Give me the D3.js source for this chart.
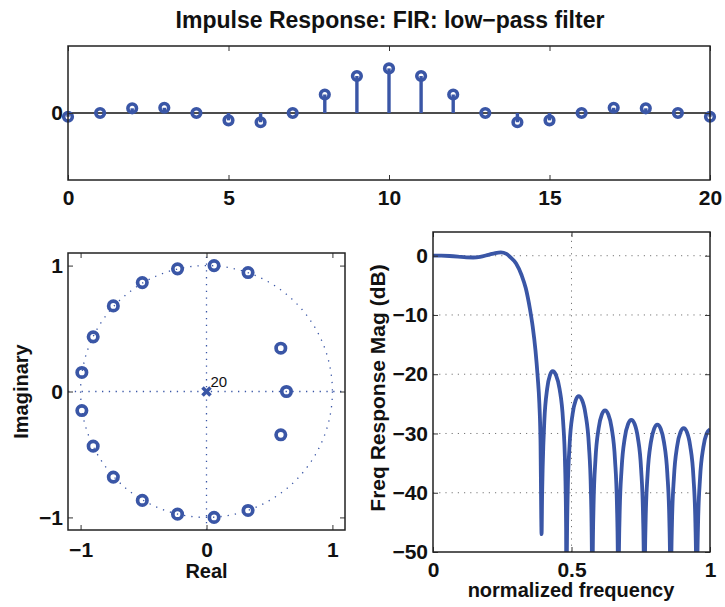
<!DOCTYPE html>
<html>
<head>
<meta charset="utf-8">
<script src="https://cdn.jsdelivr.net/npm/d3@7"></script>
<style>
  html, body { margin: 0; padding: 0; background: #fff; }
  svg { display: block; }
  text { font-family: "Liberation Sans", Arial, Helvetica, sans-serif; fill: #111; }
</style>
</head>
<body>
<svg id="chart" width="725" height="607"></svg>
<script>
// ---------------- DATA ----------------
const title = "Impulse Response: FIR: low\u2212pass filter";

// Impulse response (stem plot)
const sampleIndex = [0,1,2,3,4,5,6,7,8,9,10,11,12,13,14,15,16,17,18,19,20];
const impulseValues = [-0.028, 0, 0.035, 0.039, 0, -0.055, -0.069, 0, 0.138, 0.276, 0.333,
                       0.276, 0.138, 0, -0.069, -0.055, 0, 0.039, 0.035, 0, -0.028];
const stemXTicks = [0, 5, 10, 15, 20];
const stemYTicks = [0];

// Pole-zero plot
const zeroReal = [0.33, 0.06, -0.23, -0.51, -0.74, -0.90, -0.99,
                  0.33, 0.06, -0.23, -0.51, -0.74, -0.90, -0.99,
                  0.59, 0.59, 0.635];
const zeroImag = [0.945, 1.0, 0.974, 0.865, 0.68, 0.434, 0.151,
                  -0.945, -1.0, -0.974, -0.865, -0.68, -0.434, -0.151,
                  0.344, -0.344, 0];
const poleReal = [0];
const poleImag = [0];
const poleMultiplicity = ["20"];
const pzTicks = [-1, 0, 1];
const pzXLabel = "Real";
const pzYLabel = "Imaginary";

// Frequency response magnitude (dB) vs normalized frequency
const freq = [0, 0.03, 0.06, 0.09, 0.12, 0.145, 0.17, 0.2, 0.225, 0.245, 0.265, 0.28, 0.30, 0.32, 0.335, 0.35, 0.36, 0.37, 0.378, 0.384, 0.388, 0.392,
  0.394, 0.396, 0.402, 0.412, 0.422, 0.432, 0.4445, 0.457, 0.4695, 0.477, 0.4805, 0.482,
  0.4833, 0.4864, 0.493, 0.504, 0.515, 0.526, 0.5383, 0.5505, 0.5628, 0.5701, 0.5735, 0.575,
  0.5764, 0.5796, 0.5865, 0.598, 0.6095, 0.621, 0.633, 0.645, 0.657, 0.6642, 0.6676, 0.669,
  0.6704, 0.6737, 0.6808, 0.6925, 0.7043, 0.716, 0.7278, 0.7395, 0.7513, 0.7583, 0.7616, 0.763,
  0.7644, 0.7677, 0.7748, 0.7865, 0.7983, 0.81, 0.822, 0.834, 0.846, 0.8532, 0.8566, 0.858,
  0.8594, 0.8627, 0.8698, 0.8815, 0.8933, 0.905, 0.9168, 0.9285, 0.9403, 0.9473, 0.9506, 0.952,
  0.9534, 0.9568, 0.964, 0.976, 0.988, 1.0];
const magDb = [0, 0, -0.05, -0.15, -0.28, -0.3, -0.2, 0.15, 0.45, 0.55, 0.3, -0.3, -1.3, -3.3, -5.5, -9, -12, -16, -20.5, -25, -31, -47,
  -40, -35.6, -27.8, -22.5, -20.2, -19.5, -20.2, -22.5, -27.8, -35.6, -46, -80,
  -50.2, -39.8, -32, -26.7, -24.4, -23.7, -24.4, -26.7, -32, -39.8, -50.2, -80,
  -52.6, -42.2, -34.4, -29.1, -26.8, -26.1, -26.8, -29.1, -34.4, -42.2, -52.6, -80,
  -54.2, -43.8, -36, -30.7, -28.4, -27.7, -28.4, -30.7, -36, -43.8, -54.2, -80,
  -55, -44.6, -36.8, -31.5, -29.2, -28.5, -29.2, -31.5, -36.8, -44.6, -55, -80,
  -55.6, -45.2, -37.4, -32.1, -29.8, -29.1, -29.8, -32.1, -37.4, -45.2, -55.6, -80,
  -55.8, -45.4, -37.6, -32.3, -30, -29.3];
const freqXTicks = [0, 0.5, 1];
const freqYTicks = [0, -10, -20, -30, -40, -50];
const freqXLabel = "normalized frequency";
const freqYLabel = "Freq Response Mag (dB)";

// ---------------- STYLE ----------------
const BLUE = "#3a56a6";
const TICK_FS = 21;
const LABEL_FS = 20;

const svg = d3.select("#chart");
svg.append("rect").attr("width", 725).attr("height", 607).attr("fill", "#fff");

// MATLAB-like boxed axes with inward ticks on all four sides
function boxAxes(g, x, y, xt, yt, xpad, ypad, xfmt, yfmt) {
  const [x0, x1] = x.range();
  const [y0, y1] = y.range(); // y0 = bottom, y1 = top
  const bottom = g.append("g").attr("transform", `translate(0,${y0})`)
    .call(d3.axisBottom(x).tickValues(xt).tickSize(-5).tickPadding(xpad).tickFormat(xfmt));
  const top = g.append("g").attr("transform", `translate(0,${y1})`)
    .call(d3.axisTop(x).tickValues(xt).tickSize(-5).tickFormat(""));
  const left = g.append("g").attr("transform", `translate(${x0},0)`)
    .call(d3.axisLeft(y).tickValues(yt).tickSize(-5).tickPadding(ypad).tickFormat(yfmt));
  const right = g.append("g").attr("transform", `translate(${x1},0)`)
    .call(d3.axisRight(y).tickValues(yt).tickSize(-5).tickFormat(""));
  [bottom, top, left, right].forEach(a => {
    a.select(".domain").remove();
    a.selectAll(".tick line").attr("stroke", "#333").attr("stroke-width", 1);
    a.selectAll("text").attr("font-size", TICK_FS).attr("font-weight", "bold")
      .attr("fill", "#111").attr("font-family", "'Liberation Sans', Arial, sans-serif");
  });
  g.append("rect").attr("x", x0).attr("y", y1).attr("width", x1 - x0).attr("height", y0 - y1)
    .attr("fill", "none").attr("stroke", "#222").attr("stroke-width", 1.5);
}

const fmtNum = d => (d < 0 ? "\u2212" + Math.abs(d) : String(d));

// ---------------- TOP: stem plot ----------------
{
  const x = d3.scaleLinear().domain([0, 20]).range([68, 710]);
  const y = d3.scaleLinear().domain([-0.5, 0.5]).range([180, 46]);
  const g = svg.append("g");

  g.append("line").attr("x1", x(0)).attr("x2", x(20)).attr("y1", y(0)).attr("y2", y(0))
    .attr("stroke", "#111").attr("stroke-width", 1.6);

  const pts = sampleIndex.map((n, i) => ({ n, v: impulseValues[i] }));
  g.selectAll(".stem").data(pts).enter().append("line")
    .attr("x1", d => x(d.n)).attr("x2", d => x(d.n))
    .attr("y1", y(0)).attr("y2", d => y(d.v))
    .attr("stroke", BLUE).attr("stroke-width", 3.4);
  g.selectAll(".mark").data(pts).enter().append("circle")
    .attr("cx", d => x(d.n)).attr("cy", d => y(d.v)).attr("r", 4.3)
    .attr("fill", "none").attr("stroke", BLUE).attr("stroke-width", 3.6);

  boxAxes(g, x, y, stemXTicks, stemYTicks, 10, 5, fmtNum, fmtNum);

  svg.append("text").attr("x", 390).attr("y", 28).attr("text-anchor", "middle")
    .attr("font-size", 23).attr("font-weight", "bold").text(title);
}

// ---------------- BOTTOM LEFT: pole-zero ----------------
{
  const x = d3.scaleLinear().domain([-1.1, 1.1]).range([68, 345]);
  const y = d3.scaleLinear().domain([-1.1, 1.1]).range([530, 253]);
  const g = svg.append("g");

  g.append("line").attr("x1", x(-1.1)).attr("x2", x(1.1)).attr("y1", y(0)).attr("y2", y(0))
    .attr("stroke", BLUE).attr("stroke-width", 1.3).attr("stroke-dasharray", "1.3,5.5");
  g.append("line").attr("x1", x(0)).attr("x2", x(0)).attr("y1", y(-1.1)).attr("y2", y(1.1))
    .attr("stroke", BLUE).attr("stroke-width", 1.3).attr("stroke-dasharray", "1.3,5.5");
  g.append("circle").attr("cx", x(0)).attr("cy", y(0)).attr("r", x(1) - x(0))
    .attr("fill", "none").attr("stroke", BLUE).attr("stroke-width", 1.3).attr("stroke-dasharray", "1.3,6");

  const zeros = zeroReal.map((r, i) => ({ r, im: zeroImag[i] }));
  g.selectAll(".zero").data(zeros).enter().append("circle")
    .attr("cx", d => x(d.r)).attr("cy", d => y(d.im)).attr("r", 4.7)
    .attr("fill", "none").attr("stroke", BLUE).attr("stroke-width", 3.7);

  const poles = poleReal.map((r, i) => ({ r, im: poleImag[i], m: poleMultiplicity[i] }));
  const pg = g.selectAll(".pole").data(poles).enter().append("g")
    .attr("transform", d => `translate(${x(d.r)},${y(d.im)})`);
  pg.append("path").attr("d", "M-4,-4L4,4M-4,4L4,-4")
    .attr("stroke", BLUE).attr("stroke-width", 3.6).attr("fill", "none");
  pg.append("text").attr("x", 4).attr("y", -4.5).attr("font-size", 15)
    .attr("fill", "#222").text(d => d.m);

  boxAxes(g, x, y, pzTicks, pzTicks, 12, 5, fmtNum, fmtNum);

  svg.append("text").attr("x", x(0)).attr("y", 578).attr("text-anchor", "middle")
    .attr("font-size", LABEL_FS).attr("font-weight", "bold").text(pzXLabel);
  svg.append("text").attr("transform", `translate(28,${y(0)}) rotate(-90)`).attr("text-anchor", "middle")
    .attr("font-size", LABEL_FS).attr("font-weight", "bold").text(pzYLabel);
}

// ---------------- BOTTOM RIGHT: frequency response ----------------
{
  const x = d3.scaleLinear().domain([0, 1]).range([433, 710]);
  const y = d3.scaleLinear().domain([-50, 4]).range([552, 232]);
  const g = svg.append("g");

  g.selectAll(".gx").data([0.5]).enter().append("line")
    .attr("x1", d => x(d)).attr("x2", d => x(d)).attr("y1", y(-50)).attr("y2", y(4))
    .attr("stroke", "#777").attr("stroke-width", 1).attr("stroke-dasharray", "1.2,5");
  g.selectAll(".gy").data(freqYTicks.filter(v => v > -50)).enter().append("line")
    .attr("x1", x(0)).attr("x2", x(1)).attr("y1", d => y(d)).attr("y2", d => y(d))
    .attr("stroke", "#777").attr("stroke-width", 1).attr("stroke-dasharray", "1.2,5");

  svg.append("clipPath").attr("id", "clipF").append("rect")
    .attr("x", x(0)).attr("y", y(4)).attr("width", x(1) - x(0)).attr("height", y(-50) - y(4));

  const pts = freq.map((f, i) => [f, magDb[i]]);
  const line = d3.line().x(d => x(d[0])).y(d => y(d[1])).curve(d3.curveMonotoneX);
  g.append("path").attr("d", line(pts)).attr("clip-path", "url(#clipF)")
    .attr("fill", "none").attr("stroke", BLUE).attr("stroke-width", 3.8)
    .attr("stroke-linejoin", "round");

  boxAxes(g, x, y, freqXTicks, freqYTicks, 10, 5, d => String(d), fmtNum);

  svg.append("text").attr("x", 571).attr("y", 597).attr("text-anchor", "middle")
    .attr("font-size", LABEL_FS).attr("font-weight", "bold").text(freqXLabel);
  svg.append("text").attr("transform", `translate(385,${(232 + 552) / 2 - 4}) rotate(-90)`).attr("text-anchor", "middle")
    .attr("font-size", 21).attr("font-weight", "bold").text(freqYLabel);
}
</script>
</body>
</html>
